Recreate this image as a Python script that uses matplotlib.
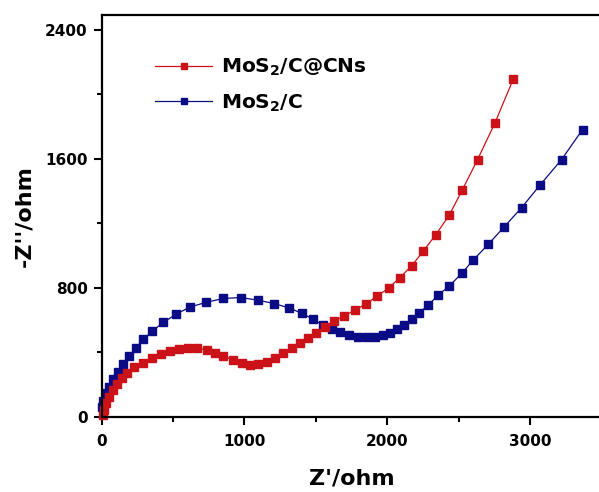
import matplotlib
matplotlib.use("Agg")
import matplotlib.pyplot as plt
from matplotlib.ticker import MultipleLocator

plt.rcParams['font.family'] = ['DejaVu Sans']
plt.rcParams['font.weight'] = 'bold'
plt.rcParams['mathtext.fontset'] = 'custom'
plt.rcParams['mathtext.rm'] = 'DejaVu Sans:bold'
plt.rcParams['mathtext.bf'] = 'DejaVu Sans:bold'
plt.rcParams['mathtext.it'] = 'DejaVu Sans:bold'

# MoS2/C@CNs (red)
x_red = [8, 17, 31, 55, 78, 106, 141, 181, 230, 288, 351, 414, 479, 544, 607,
         670, 736, 794, 852, 922, 981, 1039, 1097, 1156, 1214, 1272, 1331, 1389,
         1445, 1503, 1564, 1627, 1697, 1774, 1851, 1930, 2012, 2089, 2171, 2252,
         2341, 2434, 2525, 2632, 2754, 2882]
y_red = [12, 43, 85, 126, 167, 204, 239, 274, 307, 336, 363, 390, 408, 421, 425,
         425, 415, 398, 377, 353, 333, 322, 326, 342, 367, 394, 425, 456,
         487, 522, 559, 592, 625, 662, 700, 749, 800, 864, 936, 1027,
         1130, 1250, 1405, 1594, 1821, 2092]

# MoS2/C (blue)
x_blue = [4, 13, 31, 55, 83, 118, 153, 195, 241, 293, 356, 433, 521, 619, 731,
          852, 974, 1093, 1207, 1312, 1401, 1478, 1550, 1611, 1669, 1734, 1797,
          1856, 1914, 1968, 2019, 2070, 2117, 2171, 2224, 2287, 2357, 2434, 2521,
          2602, 2707, 2819, 2940, 3069, 3220, 3367]
y_blue = [60, 101, 147, 188, 233, 280, 328, 377, 429, 481, 532, 586, 636, 681, 710,
          734, 740, 724, 703, 676, 643, 607, 569, 545, 528, 507, 497,
          493, 497, 507, 522, 542, 569, 605, 646, 693, 755, 811, 889,
          972, 1069, 1178, 1296, 1436, 1594, 1780]

red = '#CC1219'
blue = '#0B0B86'

fig = plt.figure(figsize=(5.99, 4.92), dpi=100)
ax = fig.add_axes([101.5 / 599, 75 / 492, 500 / 599, 402 / 492])

lb, = ax.plot(x_blue, y_blue, '-s', color=blue, lw=0.9, ms=5.5,
              mec=blue, mfc=blue, label=r'MoS$_\mathbf{2}$/C', clip_on=False)
lr, = ax.plot(x_red, y_red, '-s', color=red, lw=0.9, ms=5.5,
              mec=red, mfc=red, label=r'MoS$_\mathbf{2}$/C@CNs', clip_on=False)

ax.set_xlim(0, 3500)
ax.set_ylim(0, 2490)
ax.xaxis.set_major_locator(MultipleLocator(1000))
ax.xaxis.set_minor_locator(MultipleLocator(500))
ax.yaxis.set_major_locator(MultipleLocator(800))
ax.yaxis.set_minor_locator(MultipleLocator(400))
ax.tick_params(which='major', direction='out', length=6, width=1.5,
               labelsize=11, pad=4)
ax.tick_params(axis='x', which='major', pad=6.5)
ax.tick_params(which='minor', direction='out', length=3.5, width=1.5)
for s in ax.spines.values():
    s.set_linewidth(1.6)

ax.set_xlabel("Z'/ohm", fontsize=16, fontweight='bold', labelpad=14)
ax.set_ylabel("-Z''/ohm", fontsize=16, fontweight='bold', labelpad=8)

leg = ax.legend(handles=[lr, lb], loc='upper left', bbox_to_anchor=(0.091, 0.916),
                frameon=False, fontsize=14.5, handlelength=2.85, handletextpad=0.4,
                labelspacing=0.7, borderaxespad=0, markerscale=0.85)

fig.savefig('out.png', dpi=100)
